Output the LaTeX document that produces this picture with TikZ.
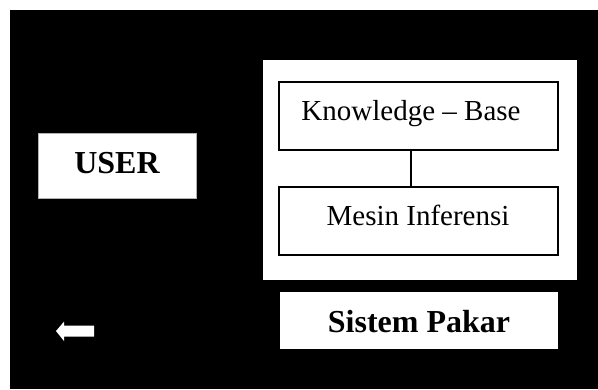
\documentclass[tikz,border=0pt]{standalone}
\usepackage{fontspec}
\setmainfont{Liberation Serif}
\begin{document}
\begin{tikzpicture}[x=1pt,y=-1pt,
  whitebox/.style={fill=white,draw=none,inner sep=0pt,outer sep=0pt},
  framebox/.style={fill=white,draw=black,line width=1.3pt,inner sep=0pt,outer sep=0pt,minimum width=279pt,minimum height=68pt},
  regtext/.style={font=\fontsize{29}{32}\selectfont,anchor=base,inner sep=0pt},
  boldtext/.style={font=\fontsize{32}{36}\selectfont\bfseries,anchor=base,inner sep=0pt},
  link/.style={draw=black,line width=1.3pt}]
\useasboundingbox (0,0) rectangle (598,389);
\fill[white] (0,0) rectangle (598,389);
\fill[black] (10,10) rectangle (598,389);
% USER
\node[whitebox,draw=gray!60,line width=0.6pt,minimum width=158pt,minimum height=65pt] (userbox) at (117,165.5) {};
\node[boldtext] (user) at (117,173) {USER};
% outer system box
\node[whitebox,minimum width=314pt,minimum height=220pt] (sysbox) at (420,170) {};
\node[framebox] (kbbox) at (418.5,116) {};
\node[regtext] (kb) at (411,120) {Knowledge -- Base};
\node[framebox] (mibox) at (418.5,221) {};
\node[regtext] (mi) at (418,225) {Mesin Inferensi};
\draw[link] (kb.base |- kbbox.south) -- (kb.base |- mibox.north);
% Sistem Pakar label
\node[whitebox,minimum width=278pt,minimum height=57pt] (spbox) at (419,320.5) {};
\node[boldtext] (sp) at (419,332) {Sistem Pakar};
% arrow
\fill[white] (56,331) -- (64,321.7) -- (64,325.7) -- (94,325.7) -- (94,336.7) -- (64,336.7) -- (64,341) -- cycle;
\end{tikzpicture}
\end{document}
